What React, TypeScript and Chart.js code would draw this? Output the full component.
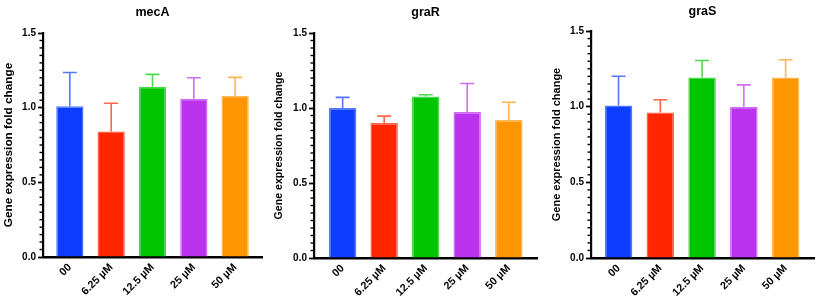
import React, { useEffect, useRef } from 'react';
import { Chart, registerables } from 'chart.js';

Chart.register(...registerables);
Chart.defaults.font.family = "'Liberation Sans', Arial, sans-serif";

const categories = ['00', '6.25 µM', '12.5 µM', '25 µM', '50 µM'];

const mecAValues = [1.01, 0.84, 1.14, 1.06, 1.08];
const mecAErrors = [0.225, 0.19, 0.083, 0.14, 0.123];

const graRValues = [1.0, 0.9, 1.076, 0.973, 0.92];
const graRErrors = [0.071, 0.046, 0.012, 0.19, 0.118];

const graSValues = [1.007, 0.962, 1.192, 1.0, 1.192];
const graSErrors = [0.194, 0.084, 0.113, 0.144, 0.118];

const barColors = ['#0d3dff', '#ff2600', '#00c400', '#bb33ee', '#ff9500'];
const edgeColors = ['#5577ff', '#ff6648', '#4cd84c', '#cf6ef3', '#ffb650'];

const yAxisTitle = 'Gene expression fold change';

const errorBarPlugin = {
  id: 'errorBars',
  afterDatasetsDraw(chart: any) {
    const ds = chart.data.datasets[0];
    const meta = chart.getDatasetMeta(0);
    const yScale = chart.scales.y;
    const ctx = chart.ctx;
    ctx.save();
    meta.data.forEach((bar: any, i: number) => {
      const v = ds.data[i].y;
      const e = ds.errors[i];
      const yTop = yScale.getPixelForValue(v + e);
      ctx.strokeStyle = ds.borderColor[i];
      ctx.lineWidth = 1.6;
      ctx.beginPath();
      ctx.moveTo(bar.x, bar.y);
      ctx.lineTo(bar.x, yTop);
      ctx.moveTo(bar.x - 7, yTop);
      ctx.lineTo(bar.x + 7, yTop);
      ctx.stroke();
    });
    ctx.restore();
  },
};

const minorTickPlugin = {
  id: 'minorTicks',
  afterDraw(chart: any) {
    const yScale = chart.scales.y;
    const left = chart.chartArea.left;
    const ctx = chart.ctx;
    ctx.save();
    ctx.strokeStyle = '#000';
    ctx.lineWidth = 1.4;
    for (let k = 1; k < 30; k++) {
      if (k % 10 === 0) continue;
      const y = yScale.getPixelForValue(k * 0.05);
      ctx.beginPath();
      ctx.moveTo(left - 3.5, y);
      ctx.lineTo(left, y);
      ctx.stroke();
    }
    ctx.restore();
  },
};

type PanelProps = {
  title: string;
  values: number[];
  errors: number[];
  left: number;
  width: number;
  yWidth: number;
  chartBottom: number;
  padRight: number;
  titleTop: number;
  titleBottom: number;
  xMin: number;
  xMax: number;
  yTitleSize: number;
};

const H = 297;

function Panel(p: PanelProps) {
  const ref = useRef<HTMLCanvasElement>(null);
  useEffect(() => {
    if (!ref.current) return;
    const chart = new Chart(ref.current, {
      type: 'bar',
      data: {
        datasets: [
          {
            data: p.values.map((v, i) => ({ x: i, y: v })),
            backgroundColor: barColors,
            borderColor: edgeColors,
            borderWidth: 1.5,
            barPercentage: 0.66,
            categoryPercentage: 1,
            errors: p.errors,
          } as any,
        ],
      },
      options: {
        responsive: false,
        maintainAspectRatio: false,
        animation: false,
        layout: { padding: { left: 0, right: p.padRight, top: 0, bottom: 0 } },
        plugins: {
          legend: { display: false },
          tooltip: { enabled: false },
          title: {
            display: true,
            text: p.title,
            fullSize: false,
            color: '#000',
            font: { size: 12.5, weight: 'bold' },
            padding: { top: p.titleTop, bottom: p.titleBottom },
          },
        },
        scales: {
          x: {
            type: 'linear',
            min: p.xMin,
            max: p.xMax,
            offset: false,
            grid: { display: false, drawTicks: false },
            border: { display: true, color: '#000', width: 2.6 },
            ticks: {
              autoSkip: false,
              maxRotation: 45,
              minRotation: 45,
              color: '#000',
              padding: 4,
              font: { size: 10.8, weight: 'bold' },
              callback: (v: any) => categories[v] ?? '',
            },
            afterBuildTicks: (scale: any) => {
              scale.ticks = categories.map((_, i) => ({ value: i }));
            },
            afterFit: (scale: any) => {
              scale.height = H - p.chartBottom;
              scale.paddingLeft = 0;
              scale.paddingRight = 0;
            },
          } as any,
          y: {
            min: 0,
            max: 1.5,
            grid: {
              display: true,
              drawOnChartArea: false,
              drawTicks: true,
              tickLength: 5,
              tickWidth: 1.8,
              tickColor: '#000',
              color: '#000',
            },
            border: { display: true, color: '#000', width: 2.2 },
            ticks: {
              stepSize: 0.5,
              color: '#000',
              padding: 2,
              font: { size: 10, weight: 'bold' },
              callback: (v: any) => Number(v).toFixed(1),
            },
            title: {
              display: true,
              text: yAxisTitle,
              color: '#000',
              font: { size: p.yTitleSize, weight: 'bold' },
              padding: { top: 2, bottom: 0 },
            },
            afterFit: (scale: any) => {
              scale.width = p.yWidth;
              scale.paddingTop = 0;
              scale.paddingBottom = 0;
            },
          } as any,
        },
      } as any,
      plugins: [errorBarPlugin, minorTickPlugin],
    });
    return () => chart.destroy();
  }, []);
  return (
    <canvas
      ref={ref}
      width={p.width}
      height={H}
      style={{ position: 'absolute', left: p.left, top: 0, width: p.width, height: H }}
    />
  );
}

export default function App() {
  return (
    <div
      style={{
        position: 'fixed',
        left: 0,
        top: 0,
        width: 817,
        height: H,
        background: '#fff',
        overflow: 'hidden',
      }}
    >
      <Panel
        title="mecA"
        values={mecAValues}
        errors={mecAErrors}
        left={0}
        width={265}
        yWidth={43}
        chartBottom={257}
        padRight={3}
        titleTop={5}
        titleBottom={13}
        xMin={-0.65}
        xMax={4.65}
        yTitleSize={11.8}
      />
      <Panel
        title="graR"
        values={graRValues}
        errors={graRErrors}
        left={271}
        width={269}
        yWidth={43}
        chartBottom={258}
        padRight={3}
        titleTop={5}
        titleBottom={13}
        xMin={-0.69}
        xMax={4.68}
        yTitleSize={10.6}
      />
      <Panel
        title="graS"
        values={graSValues}
        errors={graSErrors}
        left={548}
        width={269}
        yWidth={43}
        chartBottom={258}
        padRight={3}
        titleTop={4}
        titleBottom={12}
        xMin={-0.66}
        xMax={4.68}
        yTitleSize={11}
      />
    </div>
  );
}
